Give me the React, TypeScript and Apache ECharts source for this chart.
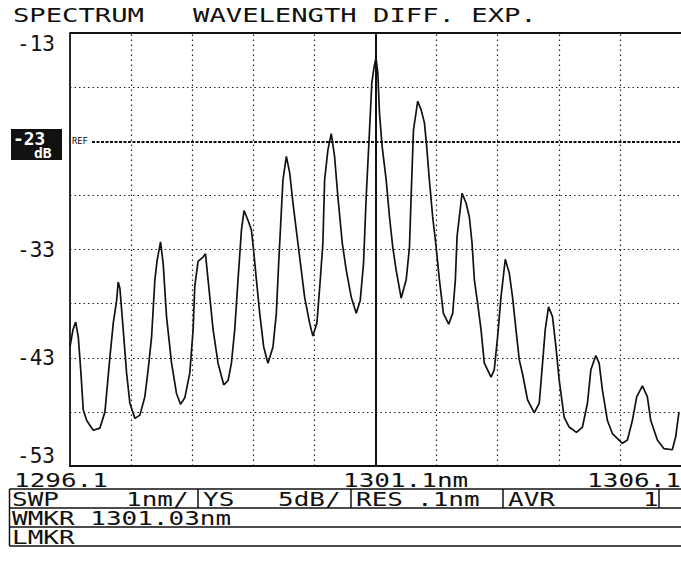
import React, { useEffect, useRef } from "react";
import * as echarts from "echarts";

// ---- data ----
const wavelengthNm = [
  1296.100, 1296.149, 1296.193, 1296.236, 1296.275, 1296.317, 1296.373, 1296.481, 1296.590, 1296.672,
  1296.754, 1296.808, 1296.863, 1296.889, 1296.917, 1296.971, 1297.026, 1297.080, 1297.162, 1297.244,
  1297.325, 1297.379, 1297.435, 1297.489, 1297.526, 1297.582, 1297.625, 1297.680, 1297.762, 1297.843,
  1297.909, 1297.979, 1298.061, 1298.115, 1298.142, 1298.196, 1298.278, 1298.317, 1298.360, 1298.442,
  1298.523, 1298.616, 1298.687, 1298.742, 1298.796, 1298.850, 1298.906, 1298.948, 1299.013, 1299.069,
  1299.095, 1299.151, 1299.205, 1299.270, 1299.340, 1299.422, 1299.477, 1299.515, 1299.585, 1299.641,
  1299.695, 1299.749, 1299.830, 1299.940, 1300.022, 1300.075, 1300.141, 1300.196, 1300.239, 1300.267,
  1300.321, 1300.376, 1300.430, 1300.484, 1300.556, 1300.621, 1300.703, 1300.785, 1300.850, 1300.904,
  1300.948, 1301.002, 1301.040, 1301.075, 1301.108, 1301.138, 1301.165, 1301.209, 1301.275, 1301.329,
  1301.383, 1301.438, 1301.520, 1301.602, 1301.656, 1301.683, 1301.721, 1301.791, 1301.847, 1301.901,
  1301.938, 1301.982, 1302.036, 1302.089, 1302.146, 1302.211, 1302.298, 1302.363, 1302.407, 1302.435,
  1302.517, 1302.582, 1302.636, 1302.680, 1302.718, 1302.772, 1302.827, 1302.881, 1302.991, 1303.044,
  1303.098, 1303.154, 1303.224, 1303.290, 1303.343, 1303.399, 1303.453, 1303.507, 1303.589, 1303.698,
  1303.780, 1303.834, 1303.878, 1303.932, 1303.997, 1304.053, 1304.107, 1304.188, 1304.270, 1304.389,
  1304.487, 1304.569, 1304.625, 1304.706, 1304.760, 1304.814, 1304.896, 1304.977, 1305.141, 1305.223,
  1305.304, 1305.376, 1305.468, 1305.549, 1305.605, 1305.713, 1305.822, 1305.958, 1306.013, 1306.067,
];
const powerDb = [
  -42.0, -40.4, -39.7, -41.1, -44.1, -47.8, -48.8, -49.7, -49.5, -48.0,
  -42.9, -39.8, -37.7, -36.0, -36.6, -40.4, -44.4, -47.2, -48.6, -48.3,
  -46.6, -44.1, -41.1, -35.8, -34.0, -32.3, -34.3, -39.2, -43.5, -46.3,
  -47.3, -46.7, -44.4, -40.4, -36.4, -34.1, -33.7, -33.4, -35.8, -40.4,
  -43.5, -45.5, -45.1, -43.5, -40.4, -35.8, -31.2, -29.4, -30.3, -31.2,
  -32.5, -35.8, -38.9, -42.0, -43.5, -42.0, -38.9, -34.3, -26.6, -24.4,
  -25.9, -28.7, -32.4, -37.4, -39.8, -41.0, -39.8, -35.8, -32.4, -26.6,
  -23.8, -22.3, -24.4, -28.1, -32.4, -34.9, -37.4, -38.9, -37.7, -34.3,
  -28.1, -22.0, -17.6, -16.2, -15.3, -16.7, -20.4, -23.5, -26.6, -30.0,
  -32.8, -34.9, -37.5, -35.8, -32.8, -28.1, -22.0, -19.3, -20.1, -21.3,
  -23.5, -26.6, -30.0, -32.6, -35.8, -38.9, -39.9, -38.9, -35.8, -31.8,
  -27.8, -28.7, -30.0, -32.4, -35.8, -38.0, -40.4, -43.5, -44.8, -44.1,
  -41.1, -37.4, -33.9, -35.2, -37.4, -40.4, -43.2, -44.5, -46.9, -48.1,
  -47.2, -43.5, -40.4, -38.3, -39.2, -42.0, -45.1, -48.5, -49.4, -49.9,
  -49.4, -47.2, -44.1, -42.8, -43.5, -46.0, -48.8, -50.0, -50.9, -50.6,
  -48.8, -46.6, -45.6, -46.6, -48.8, -50.6, -51.4, -51.5, -50.3, -48.0,
];

const xMin = 1296.1;
const xMax = 1306.1;
const xStep = 1;
const yMin = -53;
const yMax = -13;
const yStep = 5;
const yLabelValues = [-53, -43, -33, -13];
const refLevelDb = -23;
const refStartNm = 1296.46;
const markerNm = 1301.1;
const circleNm = [1297.1, 1299.1, 1303.1, 1305.1];
const circleDb = -18;

const titleText = "SPECTRUM   WAVELENGTH DIFF. EXP.";
const xLeftLabel = "1296.1";
const xCenterLabel = "1301.1nm";
const xRightLabel = "1306.1";
const refBoxTop = "-23";
const refBoxBottom = "dB";
const row1Cells = [
  ["SWP", "1nm/"],
  ["YS", "5dB/"],
  ["RES", ".1nm"],
  ["AVR", "1"],
];
const row2Text = "WMKR 1301.03nm";
const row3Text = "LMKR";

const MONO = "'DejaVu Sans Mono', 'Liberation Mono', monospace";

export default function App() {
  const ref = useRef<HTMLDivElement>(null);

  useEffect(() => {
    if (!ref.current) return;
    const chart = echarts.init(ref.current, null, { renderer: "svg" });

    const dotV = { type: [1.5, 3.5], width: 1.2, color: "#222" };
    const dotH = { type: [1.5, 3], width: 1.2, color: "#222" };

    const markData: any[] = [];
    for (let i = 1; i < 10; i++) {
      const v = +(xMin + i * xStep).toFixed(2);
      if (Math.abs(v - markerNm) < 1e-6) continue;
      markData.push({ xAxis: v, lineStyle: dotV });
    }
    for (let v = yMin + yStep; v < yMax; v += yStep) {
      if (v === refLevelDb) continue;
      markData.push({ yAxis: v, lineStyle: dotH });
    }
    markData.push([
      { coord: [refStartNm, refLevelDb], lineStyle: { type: [3, 1.5], width: 1.8, color: "#111" } },
      { coord: [xMax, refLevelDb] },
    ]);
    markData.push({ yAxis: yMax, lineStyle: { type: "solid", width: 2.2, color: "#111" } });
    markData.push({ xAxis: markerNm, lineStyle: { type: "solid", width: 2, color: "#111" } });

    const T = (text: string, x: number, y: number, opts: any = {}) => ({
      type: "text",
      x,
      y,
      scaleX: opts.scaleX ?? 1.3,
      z: 100,
      style: {
        text,
        fill: opts.fill ?? "#111",
        fontSize: opts.fontSize ?? 20,
        fontFamily: MONO,
        fontWeight: opts.fontWeight ?? "normal",
        align: opts.align ?? "left",
        verticalAlign: "middle",
        textAlign: opts.align ?? "left",
        textVerticalAlign: "middle",
      },
    });
    const L = (x1: number, y1: number, x2: number, y2: number, w = 1.5) => ({
      type: "line",
      z: 100,
      shape: { x1, y1, x2, y2 },
      style: { stroke: "#111", lineWidth: w },
    });

    // table geometry
    const tL = 9.5, tR = 690, r0 = 489, r1 = 508, r2 = 527, r3 = 546;
    const colDiv = [198, 351, 503, 659];
    const cellX = [[12, 126], [203, 278], [356, 417], [508, 643]];

    const graphic: any[] = [
      T(titleText, 13, 15, { scaleX: 1.36 }),
      // ref level box
      { type: "rect", z: 100, shape: { x: 11, y: 129, width: 51, height: 31 }, style: { fill: "#111" } },
      T(refBoxTop, 13, 139, { fill: "#fff", fontSize: 17, fontWeight: "bold", scaleX: 1.05 }),
      T(refBoxBottom, 34, 153, { fill: "#fff", fontSize: 14, fontWeight: "bold", scaleX: 1.05 }),
      T("REF", 72, 141, { fontSize: 8, scaleX: 1.1 }),
      // x axis texts
      T(xLeftLabel, 14, 480),
      T(xCenterLabel, 343, 480),
      T(xRightLabel, 681, 480, { align: "right" }),
      // table
      L(tL, r0, tR, r0),
      L(tL, r1, tR, r1),
      L(tL, r2, tR, r2),
      L(tL, r3, tR, r3),
      L(tL, r0, tL, r3),
      ...colDiv.map((x) => L(x, r0, x, r1)),
      T(row2Text, 12, (r1 + r2) / 2 + 0.5),
      T(row3Text, 12, (r2 + r3) / 2 + 0.5),
    ];
    row1Cells.forEach((cell, i) => {
      graphic.push(T(cell[0], cellX[i][0], (r0 + r1) / 2 + 0.5));
      graphic.push(T(cell[1], cellX[i][1], (r0 + r1) / 2 + 0.5));
    });

    const option: any = {
      animation: false,
      backgroundColor: "#fff",
      grid: { left: 70, top: 33, width: 612, height: 433, containLabel: false },
      xAxis: {
        type: "value",
        min: xMin,
        max: xMax,
        axisLine: { show: true, onZero: false, lineStyle: { color: "#111", width: 2 } },
        axisTick: { show: false },
        axisLabel: { show: false },
        splitLine: { show: false },
      },
      yAxis: {
        type: "value",
        min: yMin,
        max: yMax,
        axisLine: { show: true, onZero: false, lineStyle: { color: "#111", width: 1.8 } },
        axisTick: { show: false },
        splitLine: { show: false },
        axisLabel: {
          customValues: yLabelValues,
          formatter: (v: number) => String(v),
          fontFamily: MONO,
          fontSize: 21,
          color: "#111",
          margin: 15,
          verticalAlignMinLabel: "bottom",
          verticalAlignMaxLabel: "top",
        },
      },
      series: [
        {
          name: "Spectrum",
          type: "line",
          data: wavelengthNm.map((w, i) => [w, powerDb[i]]),
          showSymbol: false,
          symbol: "none",
          lineStyle: { color: "#111", width: 1.7 },
          markLine: {
            silent: true,
            symbol: ["none", "none"],
            label: { show: false },
            data: markData,
          },
        },
        {
          name: "Grid marks",
          type: "scatter",
          data: circleNm.map((w) => [w, circleDb]),
          symbol: "emptyCircle",
          symbolSize: 5,
          itemStyle: { color: "#fff", borderColor: "#222", borderWidth: 1 },
        },
      ],
      graphic,
    };

    chart.setOption(option);
    return () => chart.dispose();
  }, []);

  return (
    <div
      ref={ref}
      style={{ position: "absolute", left: 0, top: 0, width: 681, height: 570, background: "#fff" }}
    />
  );
}
